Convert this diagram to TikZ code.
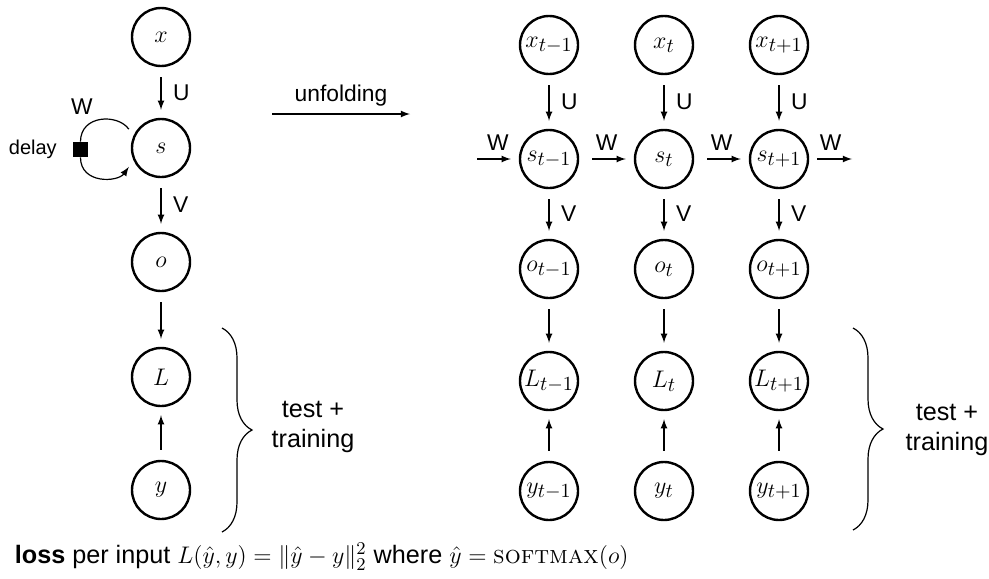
\documentclass[tikz,border=0pt]{standalone}
\usepackage{amsmath}
\usepackage{amssymb}
\usepackage{fontspec}
\setsansfont{Liberation Sans}
\usepackage{tikz}
\usetikzlibrary{positioning,decorations.pathreplacing}
\DeclareMathSizes{12}{12}{10}{8}

\tikzset{
  unit/.style={draw, circle, line width=1.2pt, minimum size=29pt, inner sep=0pt, font=\fontsize{12}{14}\selectfont},
  flow/.style={-latex, line width=0.6pt, shorten <=5pt, shorten >=4pt},
  lbl/.style={inner sep=0.75pt, font=\sffamily\fontsize{11.4}{13.5}\selectfont},
  bigLbl/.style={inner sep=0.75pt, align=center, font=\sffamily\fontsize{12.6}{15}\selectfont},
  curly/.style={decorate, decoration={brace, amplitude=15pt}, line width=0.6pt},
}

\begin{document}
\begin{tikzpicture}[x=0.5pt,y=0.5pt,yscale=-1,xscale=1]
\useasboundingbox (0,0) rectangle (989,578);

%Shape: Circle (folded network)
\node[unit] (x) at (161,37) {$x$};
\node[unit] (s) at (161,148) {$s$};
\node[unit] (o) at (161,262) {$o$};
\node[unit] (L) at (161,377) {$L$};
\node[unit] (y) at (161,490) {$y$};
%Shape: Square
\node[fill=black, minimum size=7.5pt, inner sep=0pt] (dl) at (80.5,149.5) {};

%Straight Lines
\draw[flow] (x) -- node[lbl, right=5pt] (lu) {U} (s);
\draw[flow] (s) -- node[lbl, right=5pt] (lv) {V} (o);
\draw[flow] (o) -- (L);
\draw[flow] (y) -- (L);
%Curve Lines (recurrence)
\draw[line width=0.6pt, shorten <=4pt] (s.156) to[out=-125,in=-90,looseness=1.3] (dl.north);
\draw[-latex, line width=0.6pt, shorten >=4pt] (dl.south) to[out=90,in=125,looseness=1.3] (s.204);

% Text Node
\node[lbl] (lw) at (82,107) {W};
\node[lbl, font=\sffamily\fontsize{10}{12}\selectfont, left=7pt of dl] (ldelay) {delay};

%Straight Lines (unfolding)
\coordinate (uf0) at (272,114);
\coordinate (uf1) at (410,114);
\draw[-latex, line width=0.6pt] (uf0) -- node[lbl, above=3pt] (luf) {unfolding} (uf1);

%Shape: Circle (unfolded network)
\node[unit] (xm) at (549,45) {$x_{t-1}$};
\node[unit] (xt) at (664,45) {$x_{t}$};
\node[unit] (xp) at (779,45) {$x_{t+1}$};
\node[unit] (sm) at (549,159) {$s_{t-1}$};
\node[unit] (st) at (664,159) {$s_{t}$};
\node[unit] (sp) at (779,159) {$s_{t+1}$};
\node[unit] (om) at (549,269) {$o_{t-1}$};
\node[unit] (ot) at (664,269) {$o_{t}$};
\node[unit] (op) at (779,269) {$o_{t+1}$};
\node[unit] (Lm) at (549,381) {$L_{t-1}$};
\node[unit] (Lt) at (664,381) {$L_{t}$};
\node[unit] (Lp) at (779,381) {$L_{t+1}$};
\node[unit] (ym) at (549,491) {$y_{t-1}$};
\node[unit] (yt) at (664,491) {$y_{t}$};
\node[unit] (yp) at (779,491) {$y_{t+1}$};

%Straight Lines
\draw[flow] (xm) -- node[lbl, right=5pt] (lu1) {U} (sm);
\draw[flow] (xt) -- node[lbl, right=5pt] (lu2) {U} (st);
\draw[flow] (xp) -- node[lbl, right=5pt] (lu3) {U} (sp);
\draw[flow] (sm) -- node[lbl, right=5pt] (lv1) {V} (om);
\draw[flow] (st) -- node[lbl, right=5pt] (lv2) {V} (ot);
\draw[flow] (sp) -- node[lbl, right=5pt] (lv3) {V} (op);
\draw[flow] (om) -- (Lm);
\draw[flow] (ot) -- (Lt);
\draw[flow] (op) -- (Lp);
\draw[flow] (ym) -- (Lm);
\draw[flow] (yt) -- (Lt);
\draw[flow] (yp) -- (Lp);
\coordinate (win) at (477,159);
\coordinate (wout) at (852,159);
\draw[flow, shorten <=0pt] (win) -- node[lbl, above=3pt] (lw0) {W} (sm);
\draw[flow, shorten <=6.5pt] (sm) -- node[lbl, above=3pt] (lw1) {W} (st);
\draw[flow, shorten <=6.5pt] (st) -- node[lbl, above=3pt] (lw2) {W} (sp);
\draw[flow, shorten <=4pt, shorten >=0pt] (sp) -- node[lbl, above=3pt] (lw3) {W} (wout);

%Braces
\draw[curly] (222,328) -- (222,532);
\draw[curly] (853,328) -- (853,530);

% Text Node
\node[bigLbl] (tt1) at (313,427) {test +\\training};
\node[bigLbl] (tt2) at (947,430) {test +\\training};
\node[lbl, anchor=west, font=\sffamily\fontsize{12.6}{14}\selectfont] (loss) at (13,557) {\textbf{loss} per input $L(\hat{y},y)=\|\hat{y}-y\|_2^2$ where $\hat{y}=\textrm{\textsc{softmax}}(o)$};

\end{tikzpicture}
\end{document}
